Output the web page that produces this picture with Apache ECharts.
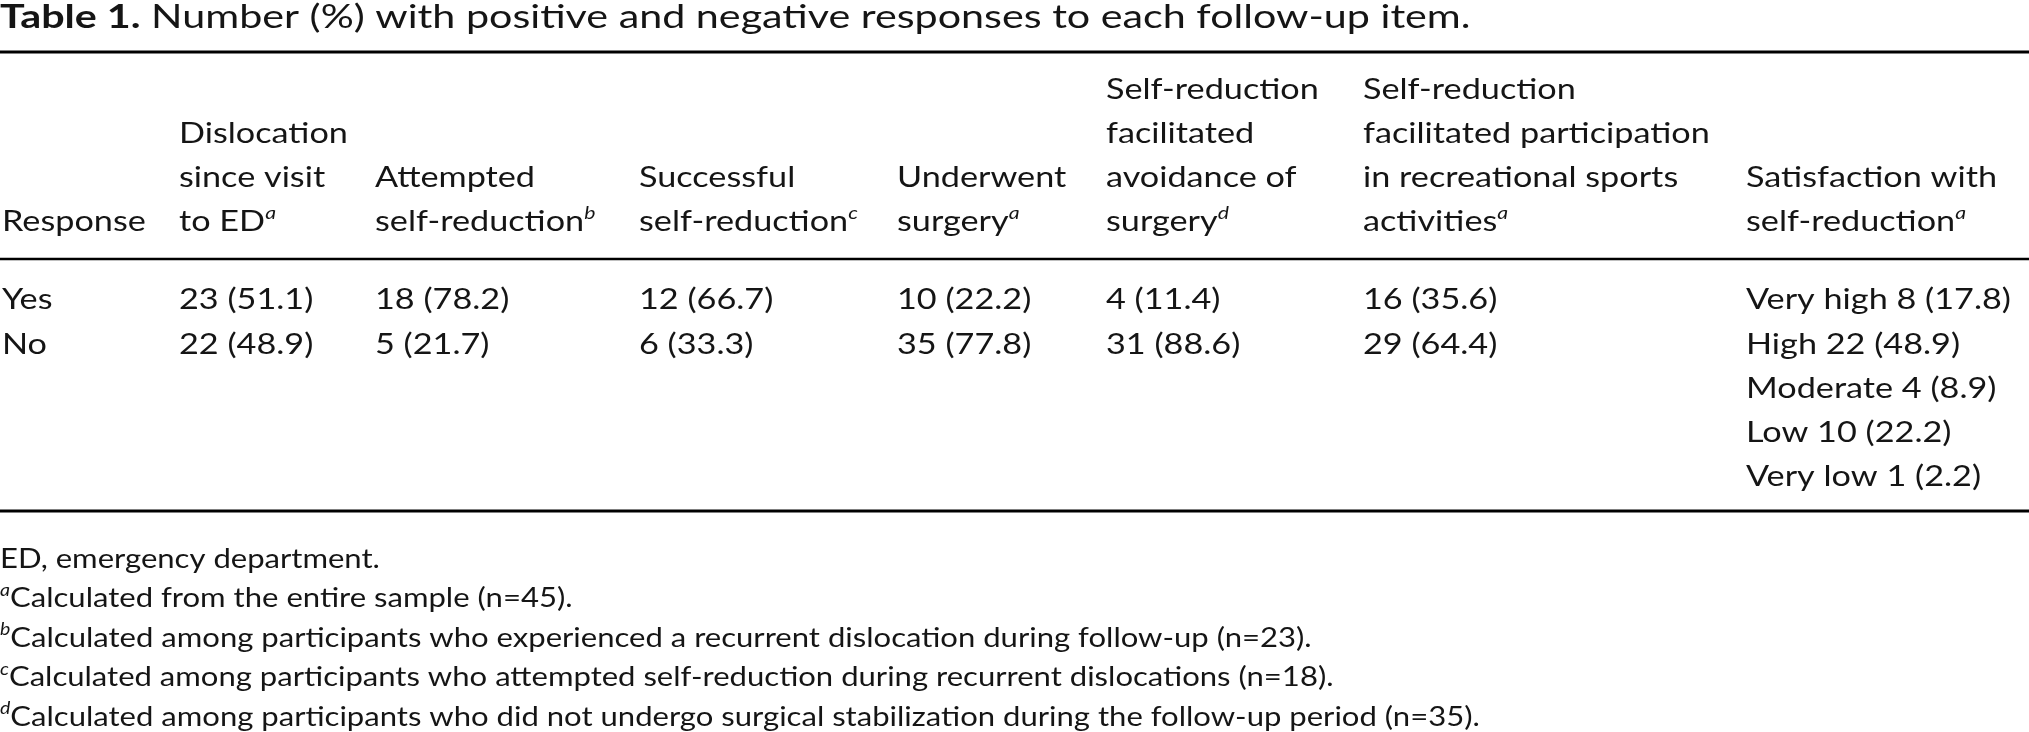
<!DOCTYPE html>
<html>
<head>
<meta charset="utf-8">
<script src="https://cdn.jsdelivr.net/npm/echarts@6/dist/echarts.min.js"></script>
<style>
html,body{margin:0;padding:0;background:#fff;}
#chart{width:2029px;height:732px;}
</style>
</head>
<body>
<div id="chart"></div>
<script>
// ---------- DATA ----------
const titleLabel = 'Table 1.';
const titleText = 'Number (%) with positive and negative responses to each follow-up item.';
const stubHeader = ['Response'];
const columnHeaders = [
  ['Dislocation', 'since visit', 'to ED'],
  ['Attempted', 'self-reduction'],
  ['Successful', 'self-reduction'],
  ['Underwent', 'surgery'],
  ['Self-reduction', 'facilitated', 'avoidance of', 'surgery'],
  ['Self-reduction', 'facilitated participation', 'in recreational sports', 'activities'],
  ['Satisfaction with', 'self-reduction']
];
const columnNotes = ['a', 'b', 'c', 'a', 'd', 'a', 'a'];
const responseLabels = ['Yes', 'No'];
const yesCounts = [23, 18, 12, 10, 4, 16];
const yesPercents = [51.1, 78.2, 66.7, 22.2, 11.4, 35.6];
const noCounts = [22, 5, 6, 35, 31, 29];
const noPercents = [48.9, 21.7, 33.3, 77.8, 88.6, 64.4];
const satisfactionLevels = ['Very high', 'High', 'Moderate', 'Low', 'Very low'];
const satisfactionCounts = [8, 22, 4, 10, 1];
const satisfactionPercents = [17.8, 48.9, 8.9, 22.2, 2.2];
const footnoteMarks = ['', 'a', 'b', 'c', 'd'];
const footnoteTexts = [
  'ED, emergency department.',
  'Calculated from the entire sample (n=45).',
  'Calculated among participants who experienced a recurrent dislocation during follow-up (n=23).',
  'Calculated among participants who attempted self-reduction during recurrent dislocations (n=18).',
  'Calculated among participants who did not undergo surgical stabilization during the follow-up period (n=35).'
];

// ---------- LAYOUT ----------
const W = 2029;
const FONT = 'Lato';
const INK = '#151515';
const TITLE_SIZE = 33, TITLE_SX = 1.25;
const BODY_SIZE = 29, BODY_SX = 1.18;
const NOTE_SIZE = 27, NOTE_SX = 1.15;
const colX = [2, 179, 375, 639, 897, 1106, 1363, 1746];
const headerBottomY = 222;
const headerStep = 44;
const rowTopY = 300;
const rowStep = 44.2;
const rules = [{y: 52, w: 3}, {y: 259, w: 2.5}, {y: 511, w: 3}];
const noteTopY = 559;
const noteStep = 39.5;

function richStyles(size) {
  return {
    t: {fontFamily: FONT, fontSize: size, fill: INK, lineHeight: size + 6},
    s: {fontFamily: FONT, fontSize: Math.round(size * 0.62), fontStyle: 'italic', fill: INK,
        verticalAlign: 'top', lineHeight: size + 6},
    b: {fontFamily: FONT, fontSize: size, fontWeight: 'bold', fill: INK, lineHeight: size + 6}
  };
}
function textEl(x, y, str, size, sx) {
  return {
    type: 'text', x: x, y: y, scaleX: sx, silent: true,
    style: {text: str, rich: richStyles(size), fontFamily: FONT, fontSize: size,
            fill: INK, align: 'left', verticalAlign: 'middle'}
  };
}
const fmt = (c, p) => c + ' (' + p.toFixed(1) + ')';

const els = [];
// title
els.push(textEl(0, 17, '{b|' + titleLabel + '}{t| ' + titleText + '}', TITLE_SIZE, TITLE_SX));
// rules
rules.forEach(r => els.push({
  type: 'line', silent: true,
  shape: {x1: 0, y1: r.y, x2: W, y2: r.y},
  style: {stroke: '#000', lineWidth: r.w}
}));
// stub header
els.push(textEl(colX[0], headerBottomY, '{t|' + stubHeader[0] + '}', BODY_SIZE, BODY_SX));
// column headers (bottom aligned)
columnHeaders.forEach((lines, ci) => {
  const n = lines.length;
  lines.forEach((ln, li) => {
    const y = headerBottomY - (n - 1 - li) * headerStep;
    let s = '{t|' + ln + '}';
    if (li === n - 1) s += '{s|' + columnNotes[ci] + '}';
    els.push(textEl(colX[ci + 1], y, s, BODY_SIZE, BODY_SX));
  });
});
// body rows
const rowsCounts = [yesCounts, noCounts];
const rowsPcts = [yesPercents, noPercents];
responseLabels.forEach((lab, ri) => {
  const y = rowTopY + ri * rowStep;
  els.push(textEl(colX[0], y, '{t|' + lab + '}', BODY_SIZE, BODY_SX));
  rowsCounts[ri].forEach((c, ci) => {
    els.push(textEl(colX[ci + 1], y, '{t|' + fmt(c, rowsPcts[ri][ci]) + '}', BODY_SIZE, BODY_SX));
  });
});
// satisfaction column
satisfactionLevels.forEach((lv, i) => {
  const y = rowTopY + i * rowStep;
  els.push(textEl(colX[7], y, '{t|' + lv + ' ' + fmt(satisfactionCounts[i], satisfactionPercents[i]) + '}', BODY_SIZE, BODY_SX));
});
// footnotes
footnoteTexts.forEach((tx, i) => {
  const y = noteTopY + i * noteStep;
  const m = footnoteMarks[i];
  els.push(textEl(0, y, (m ? '{s|' + m + '}' : '') + '{t|' + tx + '}', NOTE_SIZE, NOTE_SX));
});

const chart = echarts.init(document.getElementById('chart'), null, {renderer: 'canvas'});
chart.setOption({backgroundColor: '#fff', animation: false, graphic: {elements: els}});
</script>
</body>
</html>
